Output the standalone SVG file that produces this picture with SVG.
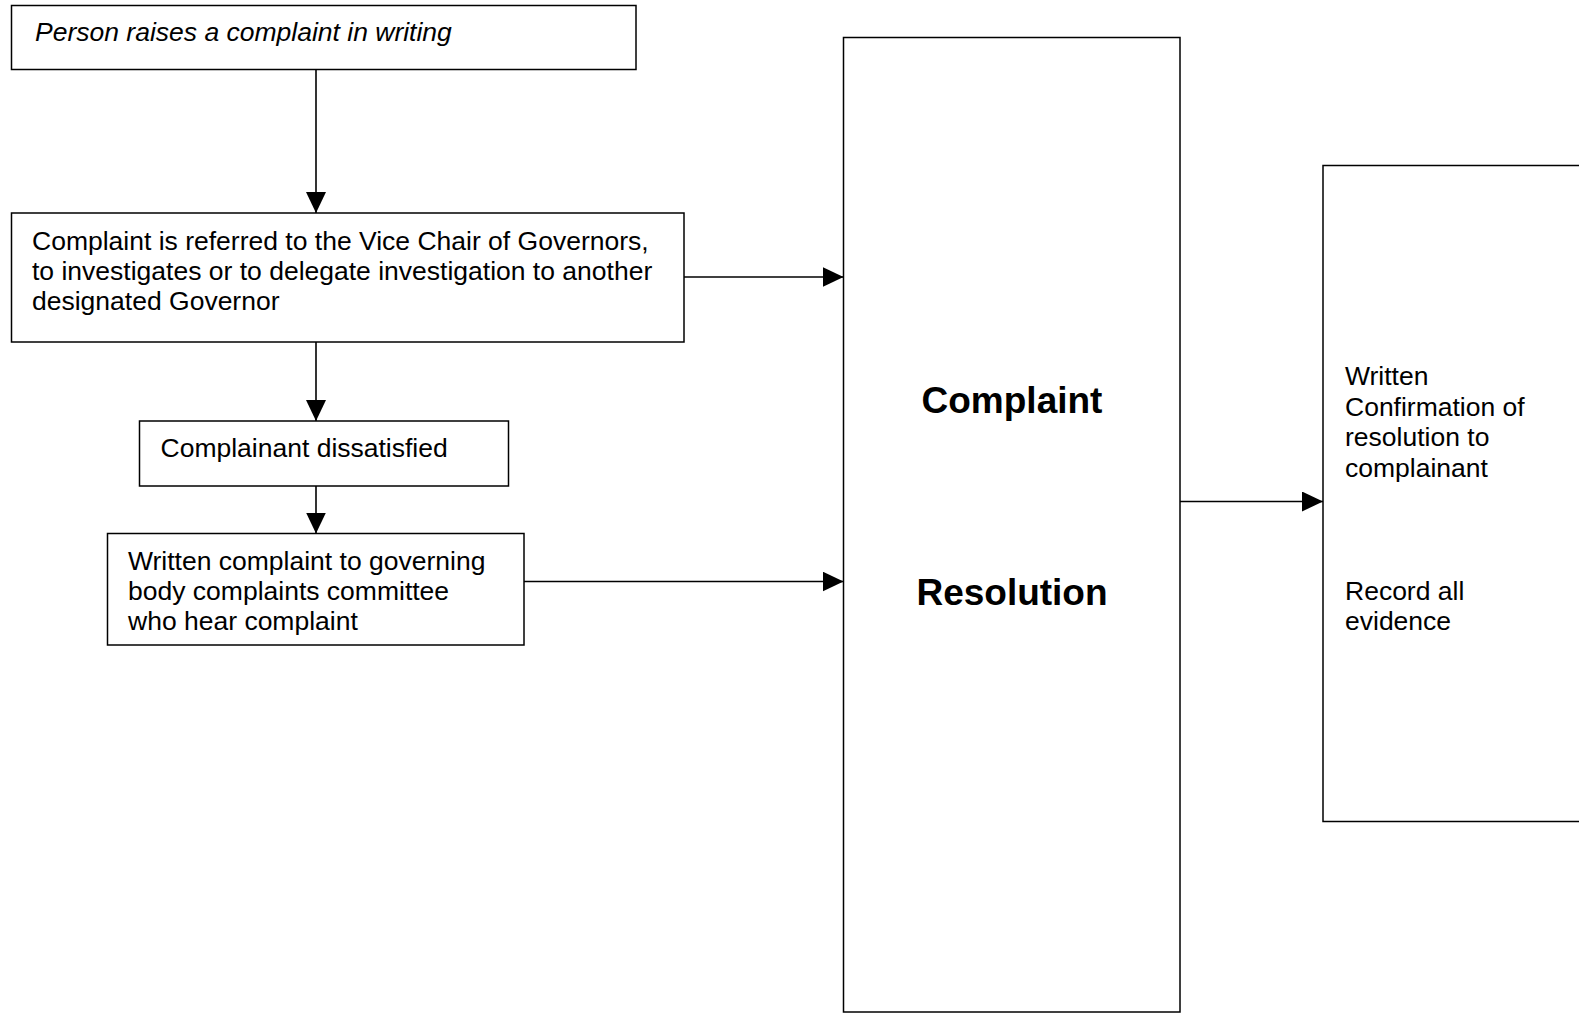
<svg xmlns="http://www.w3.org/2000/svg" width="1579" height="1013" viewBox="0 0 1579 1013">
<style>
.box{fill:#fff;stroke:#000;stroke-width:1.5}
.t{font-family:"Liberation Sans",Arial,sans-serif;font-size:26.5px;fill:#000}
.i{font-style:italic}
.b{font-weight:bold;font-size:37px}
.c{fill:none;stroke:#000;stroke-width:1.6}
</style>
<defs>
<marker id="ah" markerUnits="userSpaceOnUse" markerWidth="21" markerHeight="20" refX="21" refY="10" orient="auto">
<path d="M0,0 L21,10 L0,20 z" fill="#000"/>
</marker>
</defs>
<rect width="1579" height="1013" fill="#fff"/>
<g id="connectors">
<line class="c" x1="316" y1="69.5" x2="316" y2="213" marker-end="url(#ah)"/>
<line class="c" x1="316" y1="342" x2="316" y2="421" marker-end="url(#ah)"/>
<line class="c" x1="316" y1="486" x2="316" y2="533.5" marker-end="url(#ah)"/>
<line class="c" x1="684" y1="277" x2="843.5" y2="277" marker-end="url(#ah)"/>
<line class="c" x1="524" y1="581.5" x2="843.5" y2="581.5" marker-end="url(#ah)"/>
<line class="c" x1="1180" y1="501.5" x2="1323" y2="501.5" marker-end="url(#ah)"/>
</g>
<g id="n1">
<rect class="box" x="11.5" y="5.5" width="624.5" height="64"/>
<text class="t i" x="35" y="41">Person raises a complaint in writing</text>
</g>
<g id="n2">
<rect class="box" x="11.5" y="213" width="672.5" height="129"/>
<text class="t" x="32"><tspan x="32" y="249.5">Complaint is referred to the Vice Chair of Governors,</tspan><tspan x="32" y="279.5">to investigates or to delegate investigation to another</tspan><tspan x="32" y="309.5">designated Governor</tspan></text>
</g>
<g id="n3">
<rect class="box" x="139.5" y="421" width="369" height="65"/>
<text class="t" x="160.5" y="457">Complainant dissatisfied</text>
</g>
<g id="n4">
<rect class="box" x="107.5" y="533.5" width="416.5" height="111.5"/>
<text class="t"><tspan x="128" y="569.5">Written complaint to governing</tspan><tspan x="128" y="600">body complaints committee</tspan><tspan x="128" y="630">who hear complaint</tspan></text>
</g>
<g id="n5">
<rect class="box" x="843.5" y="37.5" width="336.5" height="974.5"/>
<text class="t b" x="1012" y="413" text-anchor="middle">Complaint</text>
<text class="t b" x="1012" y="605" text-anchor="middle">Resolution</text>
</g>
<g id="n6">
<rect class="box" x="1323" y="165.5" width="300" height="656"/>
<text class="t"><tspan x="1345" y="385">Written</tspan><tspan x="1345" y="415.5">Confirmation of</tspan><tspan x="1345" y="446">resolution to</tspan><tspan x="1345" y="476.5">complainant</tspan><tspan x="1345" y="600">Record all</tspan><tspan x="1345" y="630">evidence</tspan></text>
</g>
</svg>
